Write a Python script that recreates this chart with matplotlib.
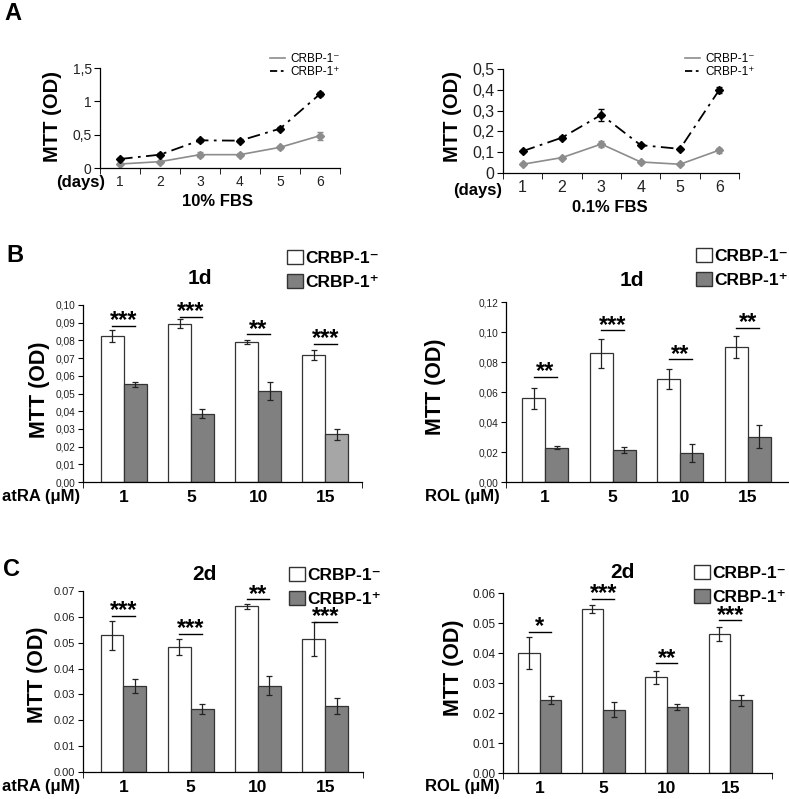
import numpy as np
import matplotlib
matplotlib.use("Agg")
import matplotlib.pyplot as plt
from matplotlib.patches import Patch
from matplotlib.lines import Line2D

plt.rcParams['font.family'] = ['Liberation Sans', 'DejaVu Sans']

W, H = 789, 799

# ---- Panel A data (MTT, OD) ----
days = ['1', '2', '3', '4', '5', '6']
a10_neg = [0.06, 0.095, 0.20, 0.20, 0.31, 0.485]
a10_neg_err = [0.01, 0.015, 0.04, 0.02, 0.02, 0.06]
a10_pos = [0.135, 0.20, 0.415, 0.41, 0.59, 1.11]
a10_pos_err = [0.02, 0.02, 0.02, 0.02, 0.02, 0.03]

a01_neg = [0.042, 0.074, 0.139, 0.053, 0.042, 0.11]
a01_neg_err = [0.005, 0.005, 0.015, 0.005, 0.005, 0.012]
a01_pos = [0.105, 0.17, 0.28, 0.134, 0.116, 0.40]
a01_pos_err = [0.006, 0.008, 0.03, 0.006, 0.006, 0.013]

# ---- Panel B / C data ----
doses = ['1', '5', '10', '15']

b_atra_neg = [0.0825, 0.0895, 0.0791, 0.0720]
b_atra_neg_err = [0.0036, 0.0025, 0.0010, 0.0028]
b_atra_pos = [0.0551, 0.0385, 0.0513, 0.0270]
b_atra_pos_err = [0.0015, 0.0025, 0.0050, 0.0030]
b_atra_sig = [0.0882, 0.0934, 0.0835, 0.0780]
b_atra_stars = ['***', '***', '**', '***']

b_rol_neg = [0.0558, 0.0857, 0.0687, 0.0901]
b_rol_neg_err = [0.0072, 0.0095, 0.0065, 0.0075]
b_rol_pos = [0.0230, 0.0213, 0.0193, 0.0303]
b_rol_pos_err = [0.0010, 0.0020, 0.0062, 0.0077]
b_rol_sig = [0.0702, 0.1012, 0.0817, 0.1028]
b_rol_stars = ['**', '***', '**', '**']

c_atra_neg = [0.0528, 0.0485, 0.0641, 0.0515]
c_atra_neg_err = [0.0056, 0.0031, 0.0010, 0.0066]
c_atra_pos = [0.0333, 0.0243, 0.0333, 0.0256]
c_atra_pos_err = [0.0027, 0.0020, 0.0037, 0.0032]
c_atra_sig = [0.0604, 0.0534, 0.0668, 0.0582]
c_atra_stars = ['***', '***', '**', '***']

c_rol_neg = [0.0400, 0.0547, 0.0319, 0.0463]
c_rol_neg_err = [0.0053, 0.0012, 0.0022, 0.0023]
c_rol_pos = [0.0244, 0.0211, 0.0220, 0.0242]
c_rol_pos_err = [0.0013, 0.0025, 0.0009, 0.0017]
c_rol_sig = [0.0471, 0.0581, 0.0366, 0.0509]
c_rol_stars = ['*', '***', '**', '***']

NEG = 'CRBP-1\u207b'
POS = 'CRBP-1\u207a'
TXT = '#222222'

fig = plt.figure(figsize=(W / 100, H / 100), dpi=100)


def rect(x0, y0, x1, y1):
    # pixel box -> figure fraction rect
    return [x0 / W, 1 - y1 / H, (x1 - x0) / W, (y1 - y0) / H]


def ftext(x, y, s, **kw):
    fig.text(x / W, 1 - y / H, s, **kw)


def style(ax):
    for s in ['top', 'right']:
        ax.spines[s].set_visible(False)
    for s in ['left', 'bottom']:
        ax.spines[s].set_linewidth(0.9)


def line_panel(box, neg, neg_err, pos, pos_err, ymax, yticks, ylabels, fs):
    ax = fig.add_axes(rect(*box))
    style(ax)
    x = np.arange(len(days))
    ax.errorbar(x, neg, yerr=neg_err, color='#8c8c8c', lw=1.2, marker='D', ms=4.5,
                capsize=2.5, elinewidth=0.9, zorder=2)
    ax.errorbar(x, pos, yerr=pos_err, color='black', lw=1.3, marker='D', ms=4.5,
                capsize=2.5, elinewidth=0.9, dashes=(7, 3, 1.5, 3), zorder=3)
    ax.set_xlim(-0.5, len(days) - 0.5)
    ax.set_ylim(0, ymax)
    ax.set_yticks(yticks)
    ax.set_yticklabels(ylabels, fontsize=fs, color=TXT)
    ax.set_xticks(x)
    ax.set_xticklabels(days, fontsize=fs, color=TXT)
    ax.set_xticks(np.arange(-0.5, len(days)), minor=True)
    ax.tick_params(axis='x', which='major', length=0, pad=5)
    ax.tick_params(axis='x', which='minor', length=4, direction='out')
    ax.tick_params(axis='y', length=4, pad=2)
    return ax


def bar_panel(box, neg, neg_err, pos, pos_err, sig, stars, ymax, ystep, ylabels,
              xlim, pos_colors, yfs):
    ax = fig.add_axes(rect(*box))
    style(ax)
    x = np.arange(len(doses))
    w = 0.34
    ekw = dict(elinewidth=0.9, capthick=0.9, ecolor='#222222')
    ax.bar(x - w / 2, neg, w, yerr=neg_err, color='white', edgecolor='#333333',
           lw=0.9, capsize=2.5, error_kw=ekw)
    ax.bar(x + w / 2, pos, w, yerr=pos_err, color=pos_colors, edgecolor='#333333',
           lw=0.9, capsize=2.5, error_kw=ekw)
    for i in range(len(doses)):
        ax.plot([x[i] - w / 2, x[i] + w / 2], [sig[i], sig[i]], color='black', lw=1.0)
        ax.annotate(stars[i], (x[i], sig[i]), xytext=(0, -1), textcoords='offset points',
                    ha='center', va='baseline', fontsize=17, fontweight='bold')
    ax.set_xlim(*xlim)
    ax.set_ylim(0, ymax)
    ticks = np.arange(len(ylabels)) * ystep
    ax.set_yticks(ticks)
    ax.set_yticklabels(ylabels, fontsize=yfs, color=TXT)
    ax.set_xticks(x)
    ax.set_xticklabels(doses, fontsize=12.5, fontweight='bold')
    ax.set_xticks([xlim[0], xlim[1]], minor=True)
    ax.tick_params(axis='x', which='major', length=0, pad=6)
    ax.tick_params(axis='x', which='minor', length=4, direction='out')
    ax.tick_params(axis='y', length=3.5, pad=2)
    return ax


def bar_legend(x, y):
    handles = [Patch(facecolor='white', edgecolor='#333333', lw=1.0),
               Patch(facecolor='#808080', edgecolor='#333333', lw=1.0)]
    fig.legend(handles, [NEG, POS], loc='upper left', bbox_to_anchor=(x / W, 1 - y / H),
               frameon=False, prop=dict(size=12.5, weight='bold'), handlelength=0.9,
               handleheight=0.9, handletextpad=0.15, labelspacing=0.45,
               borderpad=0, borderaxespad=0)


def line_legend(x, y):
    handles = [Line2D([], [], color='#8c8c8c', lw=1.2),
               Line2D([], [], color='black', lw=1.3, dashes=(4, 2, 1.5, 2))]
    fig.legend(handles, [NEG, POS], loc='upper left', bbox_to_anchor=(x / W, 1 - y / H),
               frameon=False, fontsize=8.5, handlelength=1.3, handletextpad=0.4,
               labelspacing=0.1, borderpad=0, borderaxespad=0)


# ---- A: growth curves ----
line_panel((100, 68, 340, 168), a10_neg, a10_neg_err, a10_pos, a10_pos_err,
           1.5, [0, 0.5, 1, 1.5], ['0', '0,5', '1', '1,5'], 10)
line_legend(270, 53)
ftext(105, 183, '(days)', ha='right', va='center', fontsize=12, fontweight='bold')
ftext(217, 202, '10% FBS', ha='center', va='center', fontsize=12, fontweight='bold')
ftext(53, 117, 'MTT (OD)', ha='center', va='center', rotation=90, fontsize=14.5,
      fontweight='bold')

line_panel((503, 69, 739, 173), a01_neg, a01_neg_err, a01_pos, a01_pos_err,
           0.5, [0, 0.1, 0.2, 0.3, 0.4, 0.5], ['0', '0,1', '0,2', '0,3', '0,4', '0,5'], 11.5)
line_legend(685, 53)
ftext(502, 190, '(days)', ha='right', va='center', fontsize=12, fontweight='bold')
ftext(610, 208, '0.1% FBS', ha='center', va='center', fontsize=12, fontweight='bold')
ftext(453, 117, 'MTT (OD)', ha='center', va='center', rotation=90, fontsize=14.5,
      fontweight='bold')

# ---- B: 1 day ----
bar_panel((83, 305, 362, 482), b_atra_neg, b_atra_neg_err, b_atra_pos, b_atra_pos_err,
          b_atra_sig, b_atra_stars, 0.10, 0.01,
          ['0,00', '0,01', '0,02', '0,03', '0,04', '0,05', '0,06', '0,07', '0,08', '0,09', '0,10'],
          (-0.607, 3.547), ['#808080', '#808080', '#808080', '#a6a6a6'], 7.3)
bar_legend(287, 250)
ftext(200, 278, '1d', ha='center', va='center', fontsize=15, fontweight='bold')
ftext(80, 497, 'atRA (\u03bcM)', ha='right', va='center', fontsize=12, fontweight='bold')
ftext(40, 390, 'MTT (OD)', ha='center', va='center', rotation=90, fontsize=15.5,
      fontweight='bold')

bar_panel((506, 302, 789, 482), b_rol_neg, b_rol_neg_err, b_rol_pos, b_rol_pos_err,
          b_rol_sig, b_rol_stars, 0.12, 0.02,
          ['0,00', '0,02', '0,04', '0,06', '0,08', '0,10', '0,12'],
          (-0.58, 3.61), '#808080', 7.3)
bar_legend(696, 248)
ftext(632, 280, '1d', ha='center', va='center', fontsize=15, fontweight='bold')
ftext(500, 497, 'ROL (\u03bcM)', ha='right', va='center', fontsize=12, fontweight='bold')
ftext(435, 387, 'MTT (OD)', ha='center', va='center', rotation=90, fontsize=15.5,
      fontweight='bold')

# ---- C: 2 days ----
bar_panel((83, 591, 363, 772), c_atra_neg, c_atra_neg_err, c_atra_pos, c_atra_pos_err,
          c_atra_sig, c_atra_stars, 0.07, 0.01,
          ['0.00', '0.01', '0.02', '0.03', '0.04', '0.05', '0.06', '0.07'],
          (-0.6, 3.56), '#808080', 8)
bar_legend(289, 567)
ftext(204, 575, '2d', ha='center', va='center', fontsize=15, fontweight='bold')
ftext(80, 786, 'atRA (\u03bcM)', ha='right', va='center', fontsize=12, fontweight='bold')
ftext(37, 675, 'MTT (OD)', ha='center', va='center', rotation=90, fontsize=15.5,
      fontweight='bold')

bar_panel((503, 593, 772, 773), c_rol_neg, c_rol_neg_err, c_rol_pos, c_rol_pos_err,
          c_rol_sig, c_rol_stars, 0.06, 0.01,
          ['0.00', '0.01', '0.02', '0.03', '0.04', '0.05', '0.06'],
          (-0.58, 3.66), '#808080', 8.5)
bar_legend(694, 565)
ftext(622, 572, '2d', ha='center', va='center', fontsize=15, fontweight='bold')
ftext(500, 787, 'ROL (\u03bcM)', ha='right', va='center', fontsize=12, fontweight='bold')
ftext(453, 668, 'MTT (OD)', ha='center', va='center', rotation=90, fontsize=15.5,
      fontweight='bold')

# panel letters
ftext(13, 13, 'A', ha='center', va='center', fontsize=17, fontweight='bold')
ftext(15, 255, 'B', ha='center', va='center', fontsize=17, fontweight='bold')
ftext(12, 570, 'C', ha='center', va='center', fontsize=17, fontweight='bold')

fig.savefig('out.png', dpi=100)
